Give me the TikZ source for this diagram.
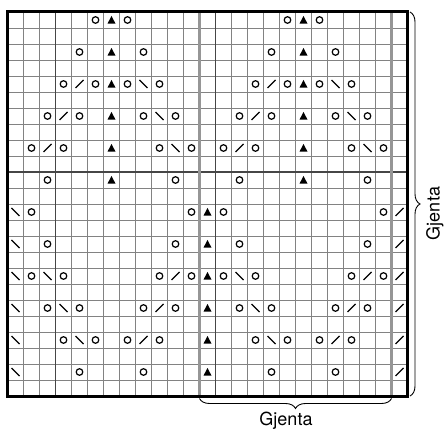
\documentclass[tikz,border=0pt]{standalone}
\usepackage{fontspec}
\setmainfont{TeX Gyre Heros}
\usetikzlibrary{decorations.pathreplacing}
\definecolor{gridthin}{RGB}{130,130,130}
\definecolor{griddark}{RGB}{70,70,70}
\definecolor{gridgray}{RGB}{150,150,150}
\begin{document}
\begin{tikzpicture}[x=1pt,y=-1pt,
  thingrid/.style={draw=gridthin,line width=0.9pt},
  darkgrid/.style={draw=griddark,line width=1.1pt},
  graygrid/.style={draw=gridgray,line width=2.8pt},
  border/.style={draw=black,line width=3pt},
  symline/.style={draw=black,line width=1.2pt},
  bracestyle/.style={draw=black,line width=0.9pt,decorate},
  lbl/.style={font=\fontsize{18}{21}\selectfont,inner sep=0pt},
  yo/.pic={\draw[symline] (0,0) circle[radius=3.3];},
  dec/.pic={\fill[black] (0,-4) -- (4,3.6) -- (-4,3.6) -- cycle;},
  kl/.pic={\draw[symline] (-4,-4) -- (4,4);},
  kr/.pic={\draw[symline] (-4,4) -- (4,-4);}
]
\useasboundingbox (0,0) rectangle (444,430);
% thin grid
\foreach \i in {0,...,25} \draw[thingrid] ({7.5+16*\i},12) -- ({7.5+16*\i},396);
\foreach \j in {0,...,24} \draw[thingrid] (7.5,{12+16*\j}) -- (407.5,{12+16*\j});
% darker lines
\foreach \i in {3,13} \draw[darkgrid] ({7.5+16*\i},12) -- ({7.5+16*\i},396);
\draw[darkgrid] (7.5,172) -- (407.5,172);
% gray thick lines
\foreach \i in {12,24} \draw[graygrid] ({7.5+16*\i},12) -- ({7.5+16*\i},396);
% border
\draw[border] (7.5,12) rectangle (407.5,396);
% symbols
\foreach \o in {0,12}{
  \foreach \k/\r in {5/0,7/0,4/2,8/2,3/4,5/4,7/4,9/4,2/6,4/6,8/6,10/6,1/8,3/8,9/8,11/8,2/10,10/10,1/12,11/12,2/14,10/14,1/16,3/16,9/16,11/16,2/18,4/18,8/18,10/18,3/20,5/20,7/20,9/20,4/22,8/22}
    \pic at ({15.5+16*(\o+\k)},{20+16*\r}) {yo};
  \foreach \r in {0,2,4,6,8,10}
    \pic at ({15.5+16*(\o+6)},{20+16*\r}) {dec};
  \foreach \k/\r in {4/4,3/6,2/8,10/16,9/18,8/20}
    \pic at ({15.5+16*(\o+\k)},{20+16*\r}) {kr};
  \foreach \k/\r in {8/4,9/6,10/8,2/16,3/18,4/20}
    \pic at ({15.5+16*(\o+\k)},{20+16*\r}) {kl};
}
\foreach \r in {12,14,...,22}{
  \pic at (15.5,{20+16*\r}) {kl};
  \pic at ({15.5+16*12},{20+16*\r}) {dec};
  \pic at ({15.5+16*24},{20+16*\r}) {kr};
}
% braces
\coordinate (bl) at (199.5,398.5);
\coordinate (br) at (391.5,398.5);
\draw[bracestyle,decoration={brace,mirror,amplitude=10pt}] (bl) -- (br);
\coordinate (rt) at (410,12);
\coordinate (rb) at (410,396);
\draw[bracestyle,decoration={brace,amplitude=10pt}] (rt) -- (rb);
% labels
\node[lbl,anchor=base] (gb) at (286,425.5) {Gjenta};
\node[lbl,anchor=base,rotate=90] (gr) at (439.5,213.5) {Gjenta};
\end{tikzpicture}
\end{document}
